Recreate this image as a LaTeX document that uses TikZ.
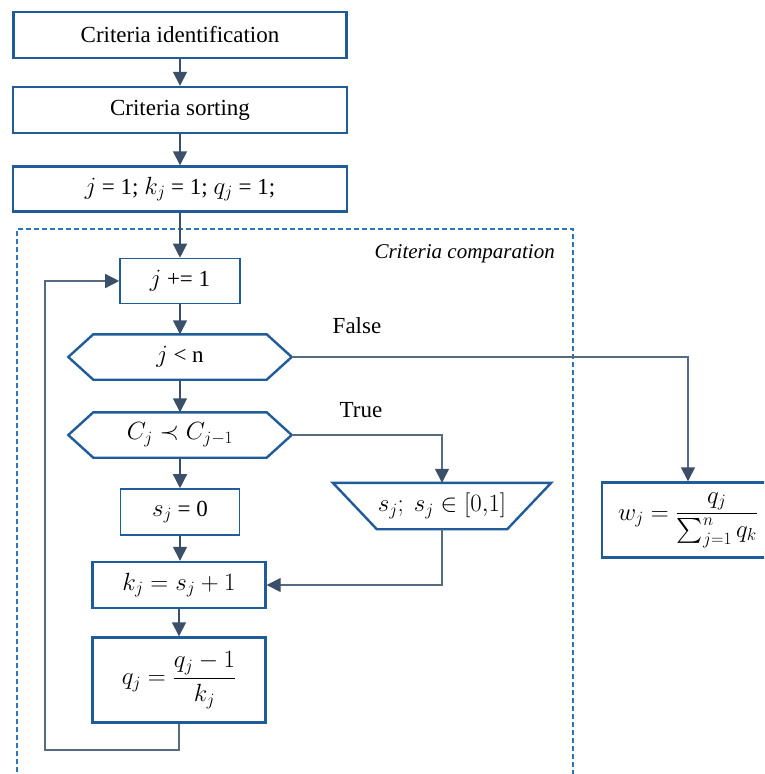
\documentclass[tikz,border=0pt]{standalone}
\usepackage{amsmath}
\usepackage{fontspec}
\setmainfont{Liberation Serif}
\usetikzlibrary{arrows.meta}
\definecolor{bblue}{HTML}{1F5C99}
\definecolor{arr}{HTML}{3B5068}
\definecolor{conncol}{HTML}{566A82}
\definecolor{dblue}{HTML}{2E75B6}
\begin{document}
\begin{tikzpicture}[x=1pt,y=-1pt,
  font=\fontsize{23}{27}\selectfont,
  thickbox/.style={draw=bblue,line width=2.4pt,inner sep=0pt,rectangle},
  thinbox/.style={draw=bblue,line width=1.6pt,inner sep=0pt,rectangle},
  shapebox/.style={inner sep=0pt,rectangle},
  outline/.style={draw=bblue,line width=2.4pt,line join=miter},
  flow/.style={draw=arr,line width=1.4pt,-{Triangle[width=14pt,length=14pt]}},
  conn/.style={draw=conncol,line width=1.4pt},
  connarr/.style={draw=conncol,line width=1.4pt,-{Triangle[width=14pt,length=14pt,fill=arr,color=arr]}},
  lbl/.style={inner sep=0pt}
]
\clip (0,0) rectangle (764,774);
\fill[white] (0,0) rectangle (764,774);

% dashed frame
\draw[dblue,line width=1.3pt,dash pattern=on 5pt off 3pt] (17,780) -- (17,229) -- (573,229) -- (573,780);
\node[lbl,font=\fontsize{21}{25}\selectfont\itshape,anchor=east] (title) at (555,254) {Criteria comparation};

% top boxes
\node[thickbox,minimum width=333pt,minimum height=46pt] (b1) at (180,35) {Criteria identification};
\node[thickbox,minimum width=334pt,minimum height=46pt] (b2) at (180,110) {Criteria sorting};
\node[thickbox,minimum width=334pt,minimum height=45pt] (b3) at (180,189) {$j$ = 1; $k_j$ = 1; $q_j$ = 1;};

% loop boxes
\node[thinbox,minimum width=120pt,minimum height=45pt] (jinc) at (180,281) {$j$ += 1};
\node[shapebox,minimum width=223pt,minimum height=45pt] (h1) at (180,357) {$j$ < n};
\node[shapebox,minimum width=223pt,minimum height=45pt] (h2) at (180,435) {$C_j \prec C_{j-1}$};
\node[thinbox,minimum width=119pt,minimum height=46pt] (s0) at (180,512) {$s_j$ = 0};
\node[thickbox,minimum width=173pt,minimum height=46pt] (kj) at (179,585) {$k_j = s_j + 1$};
\node[thickbox,minimum width=173pt,minimum height=85pt] (qj) at (179,680) {$\displaystyle q_j = \frac{q_j - 1}{k_j}$};
\node[shapebox,minimum width=218pt,minimum height=46pt] (tr) at (442,506) {$s_j;\ s_j \in [0{,}1]$};
\node[thickbox,minimum width=172pt,minimum height=75pt] (w) at (688,520) {$\displaystyle w_j = \frac{q_j}{\textstyle\sum_{j=1}^{n} q_k}$};

% hexagons
\foreach \h in {h1,h2}{
  \draw[outline] (\h.west) -- ([xshift=25pt]\h.north west) -- ([xshift=-25pt]\h.north east)
    -- (\h.east) -- ([xshift=-25pt]\h.south east) -- ([xshift=25pt]\h.south west) -- cycle;
}
% trapezoid
\draw[outline] (tr.north west) -- (tr.north east) -- ([xshift=-44pt]tr.south east)
  -- ([xshift=44pt]tr.south west) -- cycle;

% labels
\node[lbl] (fl) at (357,326) {False};
\node[lbl] (tl) at (361,410) {True};

% flow arrows
\draw[flow] (b1.south) -- (b2.north);
\draw[flow] (b2.south) -- (b3.north);
\draw[flow] (b3.south) -- (jinc.north);
\draw[flow] (jinc.south) -- (h1.north);
\draw[flow] (h1.south) -- (h2.north);
\draw[flow] (h2.south) -- (s0.north);
\draw[flow] (s0.south) -- (s0.south |- kj.north);
\draw[flow] (kj.south) -- (qj.north);

% branch connectors
\draw[connarr] (h1.east) -| (w.north);
\draw[connarr] (h2.east) -| (tr.north);
\draw[connarr] (tr.south) |- (kj.east);

% loop back
\coordinate (lpa) at (45,750);
\draw[connarr] (qj.south) |- (lpa) |- (jinc.west);
\end{tikzpicture}
\end{document}
